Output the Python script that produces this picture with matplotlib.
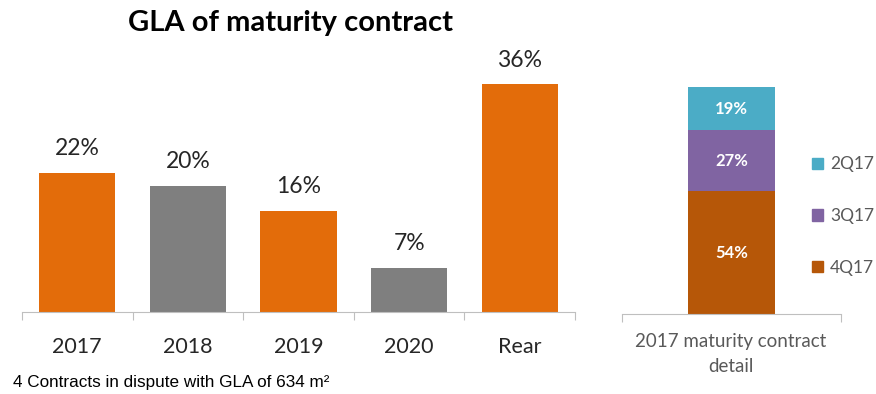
import matplotlib.pyplot as plt
from matplotlib.patches import Patch

# --- Data ---
years = ['2017', '2018', '2019', '2020', 'Rear']
gla_share = [22, 20, 16, 7, 36]
bar_colors = ['#E36C0A', '#7F7F7F', '#E36C0A', '#7F7F7F', '#E36C0A']

quarters = ['4Q17', '3Q17', '2Q17']
quarter_share = [54, 27, 19]
quarter_colors = ['#B65708', '#8064A2', '#4BACC6']

W, H = 876, 394
fig = plt.figure(figsize=(W / 100, H / 100), dpi=100)
plt.rcParams['font.family'] = ['Lato', 'DejaVu Sans']

zero_y = 312
px_per_pct = 6.32
AXIS_GRAY = '#BFBFBF'

# --- Left: main bar chart ---
top = 40
ax = fig.add_axes([22 / W, (H - zero_y) / H, (575 - 22) / W, top * px_per_pct / H])
x = range(len(years))
ax.bar(x, gla_share, width=0.69, color=bar_colors)
for i, v in zip(x, gla_share):
    ax.annotate(f'{v}%', (i, v), xytext=(0, 10), textcoords='offset points',
                ha='center', va='bottom', fontsize=16.5, color='#262626')
ax.set_xlim(-0.5, len(years) - 0.5)
ax.set_ylim(0, top)
ax.set_yticks([])
for s in ['top', 'left', 'right']:
    ax.spines[s].set_visible(False)
ax.spines['bottom'].set_color(AXIS_GRAY)
ax.set_xticks([i - 0.5 for i in range(len(years) + 1)])
ax.set_xticklabels([])
ax.tick_params(axis='x', length=6, color=AXIS_GRAY)
for i, lab in enumerate(years):
    ax.text(i, -35 / px_per_pct, lab, ha='center', va='center', fontsize=15.5,
            color='#262626', clip_on=False)

fig.text(290 / W, 1 - 23 / H, 'GLA of maturity contract', ha='center', va='center',
         fontsize=21, fontweight='bold', color='#000000')
fig.text(13 / W, 1 - 383 / H, '4 Contracts in dispute with GLA of 634 m²',
         ha='left', va='center', fontsize=12.3, family='Liberation Sans', color='#000000')

# --- Right: stacked 2017 detail ---
zero_r = 314
px_per_unit = 2.27
ax2 = fig.add_axes([622 / W, (H - zero_r) / H, (841 - 622) / W, 100 * px_per_unit / H])
bottom = 0
for q, v, c in zip(quarters, quarter_share, quarter_colors):
    ax2.bar(0, v, bottom=bottom, width=0.4, color=c, label=q)
    ax2.text(0, bottom + v / 2, f'{v}%', ha='center', va='center', fontsize=12,
             fontweight='bold', color='white')
    bottom += v
ax2.set_xlim(-0.5, 0.5)
ax2.set_ylim(0, 100)
ax2.set_yticks([])
for s in ['top', 'left', 'right']:
    ax2.spines[s].set_visible(False)
ax2.spines['bottom'].set_color(AXIS_GRAY)
ax2.set_xticks([-0.5, 0.5])
ax2.set_xticklabels([])
ax2.tick_params(axis='x', length=6, color=AXIS_GRAY)
fig.text(731 / W, 1 - 354 / H, '2017 maturity contract\ndetail', ha='center', va='center',
         fontsize=13.5, color='#595959', linespacing=1.55)

handles = [Patch(color=c) for c in quarter_colors[::-1]]
fig.legend(handles, quarters[::-1], loc='center left', bbox_to_anchor=(812 / W, 1 - 216 / H),
           frameon=False, fontsize=12.5, labelcolor='#595959', handlelength=0.65,
           handleheight=0.65, handletextpad=0.4, labelspacing=2.05, borderpad=0,
           borderaxespad=0)

fig.savefig('out.png', dpi=100)
